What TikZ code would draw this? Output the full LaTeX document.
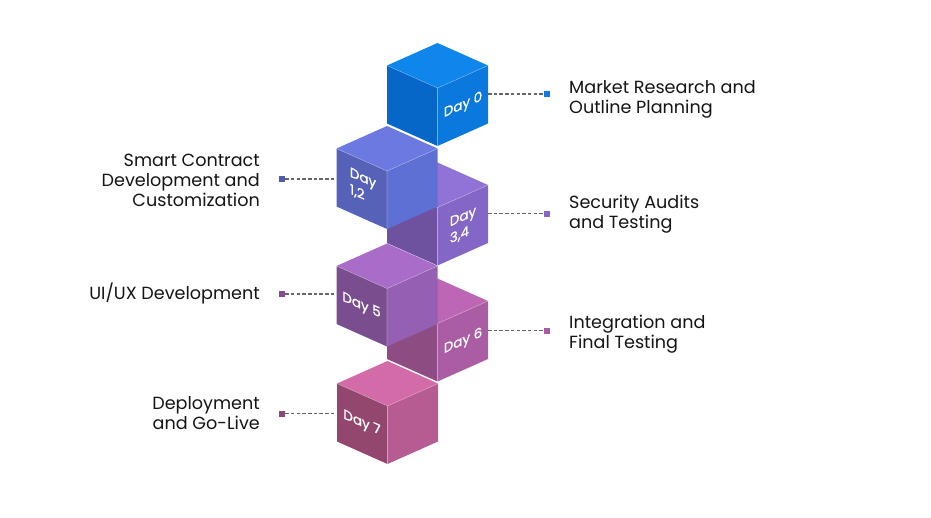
\documentclass[tikz,border=0pt]{standalone}
\usepackage{fontspec}
\setmainfont{Poppins}
\newfontfamily\dayfont{Poppins}[FakeBold=0.8]
\definecolor{cAt}{HTML}{0E86EC}\definecolor{cAl}{HTML}{0767C8}\definecolor{cAr}{HTML}{0B78DE}
\definecolor{cBt}{HTML}{6B79E1}\definecolor{cBl}{HTML}{5662B8}\definecolor{cBr}{HTML}{5E70D4}
\definecolor{cCt}{HTML}{9172D6}\definecolor{cCl}{HTML}{6E52A0}\definecolor{cCr}{HTML}{8366C6}
\definecolor{cDt}{HTML}{A96CC9}\definecolor{cDl}{HTML}{7A4E8E}\definecolor{cDr}{HTML}{955FB3}
\definecolor{cEt}{HTML}{BD66B5}\definecolor{cEl}{HTML}{8D4C82}\definecolor{cEr}{HTML}{AB5DA3}
\definecolor{cFt}{HTML}{D36BA8}\definecolor{cFl}{HTML}{93476F}\definecolor{cFr}{HTML}{B65C93}
\definecolor{sqA}{HTML}{1479E0}\definecolor{sqB}{HTML}{4F5BB0}\definecolor{sqC}{HTML}{8A66C6}
\definecolor{sqD}{HTML}{8A4A93}\definecolor{sqE}{HTML}{A85AA5}\definecolor{sqF}{HTML}{8F4775}
\definecolor{txt}{HTML}{141414}\definecolor{dashc}{HTML}{666666}
\newcommand\isocube[5]{%
 \begin{scope}[shift={(#1,#2)}]
  \fill[#3] (0,0) -- (-50.5,-22.5) -- (0,-45) -- (50.5,-22.5) -- cycle;
  \fill[#4] (0,0) -- (-50.5,-22.5) -- (-50.5,35.5) -- (0,58) -- cycle;
  \fill[#5] (0,0) -- (50.5,-22.5) -- (50.5,35.5) -- (0,58) -- cycle;
  \draw[white, opacity=0.3, line width=0.6pt] (-50.5,-22.5) -- (0,0) -- (50.5,-22.5) (0,0) -- (0,58);
 \end{scope}}
\begin{document}
\begin{tikzpicture}[x=1pt,y=-1pt,
  lbl/.style={font=\fontsize{17.6}{20}\selectfont, text=txt, inner sep=0pt},
  daylbl/.style={font=\dayfont\fontsize{13.5}{17}\selectfont, text=white, inner sep=0pt, align=left},
  conn/.style={draw=dashc, dash pattern=on 3.5pt off 2.2pt, line width=1.4pt},
  sqm/.style={fill=#1, minimum size=6pt, inner sep=0pt}]
\useasboundingbox (0,0) rectangle (931,517);
% cubes (back to front)
\isocube{437.5}{88}{cAt}{cAl}{cAr}
\isocube{437.5}{207.5}{cCt}{cCl}{cCr}
\isocube{387}{171}{cBt}{cBl}{cBr}
\isocube{437.5}{323.5}{cEt}{cEl}{cEr}
\isocube{387}{288.5}{cDt}{cDl}{cDr}
\isocube{387.5}{406}{cFt}{cFl}{cFr}
% day labels
\node[daylbl, yslant=0.445] (d0) at (463,105.5) {Day 0};
\node[daylbl, yslant=-0.445] (d12) at (363,187) {Day\\1,2};
\node[daylbl, yslant=0.445] (d34) at (463,225.5) {Day\\3,4};
\node[daylbl, yslant=-0.445] (d5) at (361.5,306) {Day 5};
\node[daylbl, yslant=0.445] (d6) at (463,341.5) {Day 6};
\node[daylbl, yslant=-0.445] (d7) at (362,423.5) {Day 7};
% connector end points on the cubes
\coordinate (e0) at (488,94);
\coordinate (e34) at (488,213.5);
\coordinate (e6) at (488,330.5);
\coordinate (e12) at (336.5,179);
\coordinate (e5) at (336.5,294);
\coordinate (e7) at (337,413.5);
% markers
\node[sqm=sqA] (s0) at (547,94) {};
\node[sqm=sqC] (s34) at (547,213.5) {};
\node[sqm=sqE] (s6) at (547,330.5) {};
\node[sqm=sqB] (s12) at (282,179) {};
\node[sqm=sqD] (s5) at (282,294) {};
\node[sqm=sqF] (s7) at (282,413.5) {};
\draw[conn] (e0) -- (s0);
\draw[conn] (e34) -- (s34);
\draw[conn] (e6) -- (s6);
\draw[conn] (s12) -- (e12);
\draw[conn] (s5) -- (e5);
\draw[conn] (s7) -- (e7);
% texts (base anchor = last line)
\node[lbl, anchor=base west, align=left] (t0) at (569,113) {Market Research and\\Outline Planning};
\node[lbl, anchor=base west, align=left] (t34) at (569,228.5) {Security Audits\\and Testing};
\node[lbl, anchor=base west, align=left] (t6) at (569,348) {Integration and\\Final Testing};
\node[lbl, anchor=base east, align=right] (t12) at (260,206) {Smart Contract\\Development and\\Customization};
\node[lbl, anchor=base east, align=right] (t5) at (260,299) {UI/UX Development};
\node[lbl, anchor=base east, align=right] (t7) at (260,429.5) {Deployment\\and Go-Live};
\end{tikzpicture}
\end{document}
